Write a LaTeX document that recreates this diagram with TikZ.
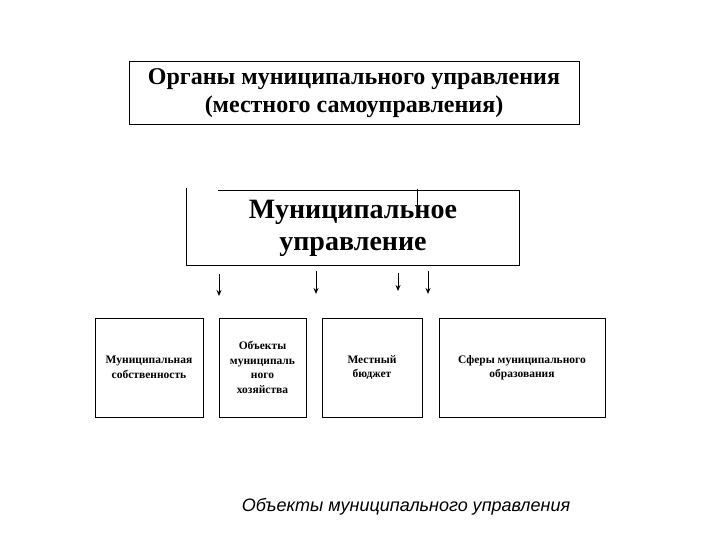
\documentclass[tikz,border=0pt]{standalone}
\usepackage{fontspec}
\setmainfont{Liberation Serif}
\newfontfamily\labelfont{Liberation Sans}
\usetikzlibrary{arrows.meta}
\begin{document}
\begin{tikzpicture}[
    x=1pt, y=-1pt,
    box/.style={draw, line width=1pt, align=center, inner sep=0pt},
    headnode/.style={box, minimum width=450pt, minimum height=63pt,
      font=\fontsize{24}{28}\selectfont\bfseries},
    midnode/.style={align=center, inner sep=0pt, minimum width=332pt, minimum height=74pt,
      font=\fontsize{28}{32}\selectfont\bfseries},
    objnode/.style={box, minimum height=99pt, font=\fontsize{11.5}{14.5}\selectfont\bfseries},
    down/.style={-{Stealth[length=6pt, width=5pt]}, line width=1pt}
]
\useasboundingbox (0,0) rectangle (720,540);
\node[headnode] (head) at (354,93.5)
  {Органы муниципального управления\\(местного самоуправления)};
\node[midnode] (mid) at (353,228) {Муниципальное\\управление};
% border of the middle box has a gap on top
\draw[line width=1pt] ([xshift=31pt]mid.north west) -- (mid.north east)
  -- (mid.south east) -- (mid.south west) -- ([yshift=3pt]mid.north west);
\draw[line width=1pt] ([xshift=64pt, yshift=2pt]mid.north) -- ([xshift=64pt, yshift=-20pt]mid.north);

\node[objnode, minimum width=108pt] (own) at (149,367.5)
  {Муниципальная\\собственность};
\node[objnode, minimum width=87pt] (econ) at (262.5,367.5)
  {Объекты\\муниципаль\\ного\\хозяйства};
\node[objnode, minimum width=100pt] (budget) at (372,367.5)
  {Местный\\бюджет};
\node[objnode, minimum width=166pt] (sphere) at (522,367.5)
  {Сферы муниципального\\образования};

\coordinate (a1) at (219,296);
\coordinate (a2) at (316,294);
\coordinate (a3) at (398,291);
\coordinate (a4) at (428,294);
\draw[down] ([yshift=-9pt]mid.south -| a1) -- (a1);
\draw[down] ([yshift=-6pt]mid.south -| a2) -- (a2);
\draw[down] ([yshift=-8pt]mid.south -| a3) -- (a3);
\draw[down] ([yshift=-6pt]mid.south -| a4) -- (a4);

\node[font=\labelfont\itshape\fontsize{18}{21}\selectfont] (caption) at (406,507)
  {Объекты муниципального управления};
\end{tikzpicture}
\end{document}
